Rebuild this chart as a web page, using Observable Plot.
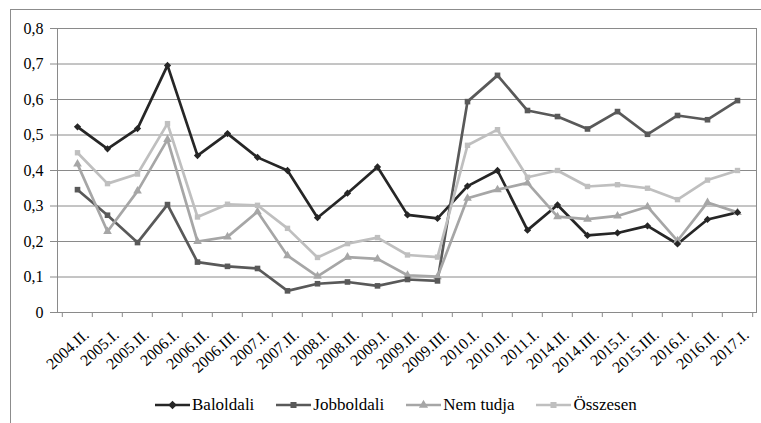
<!DOCTYPE html>
<html><head><meta charset="utf-8">
<style>
body{margin:0;width:761px;height:423px;overflow:hidden;position:relative;background:#fff;font-family:'Liberation Serif',serif;}
#box{position:absolute;left:10px;top:9px;width:800px;height:500px;border:1px solid #8c8c8c;box-sizing:border-box;}
#chart{position:absolute;left:0;top:0;}
#legend{position:absolute;left:155px;top:395px;display:flex;gap:22px;align-items:center;font-size:17px;color:#000;font-family:'Liberation Serif',serif;}
#legend .item{display:flex;align-items:center;}
#legend .item span{margin-left:2px;}
</style>
</head>
<body>
<div id="box"></div>
<div id="chart"></div>
<div id="legend"><div class="item"><svg width="35" height="12"></svg><span>Baloldali</span></div><div class="item"><svg width="35" height="12"></svg><span>Jobboldali</span></div><div class="item"><svg width="35" height="12"></svg><span>Nem tudja</span></div><div class="item"><svg width="35" height="12"></svg><span>Összesen</span></div></div>
<script src="https://cdn.jsdelivr.net/npm/d3@7"></script>
<script src="https://cdn.jsdelivr.net/npm/@observablehq/plot@0.6"></script>
<script>
const categories = ["2004.II.","2005.I.","2005.II.","2006.I.","2006.II.","2006.III.","2007.I.","2007.II.","2008.I.","2008.II.","2009.I.","2009.II.","2009.III.","2010.I.","2010.II.","2011.I.","2014.II.","2014.III.","2015.I.","2015.III.","2016.I.","2016.II.","2017.I."];
const seriesNames = ["Baloldali","Jobboldali","Nem tudja","Összesen"];
const baloldali  = [0.523,0.461,0.518,0.696,0.442,0.504,0.437,0.400,0.267,0.336,0.410,0.275,0.265,0.356,0.400,0.232,0.303,0.217,0.224,0.244,0.193,0.262,0.282];
const jobboldali = [0.346,0.274,0.197,0.304,0.142,0.130,0.124,0.061,0.081,0.086,0.075,0.093,0.089,0.594,0.668,0.569,0.552,0.517,0.566,0.502,0.555,0.543,0.597];
const nemTudja   = [0.418,0.228,0.342,0.487,0.200,0.213,0.284,0.160,0.102,0.156,0.151,0.105,0.101,0.322,0.346,0.365,0.270,0.263,0.272,0.298,0.202,0.310,0.282];
const osszesen   = [0.450,0.363,0.390,0.532,0.269,0.305,0.302,0.237,0.155,0.194,0.211,0.162,0.156,0.471,0.515,0.381,0.400,0.355,0.360,0.350,0.318,0.373,0.400];
const yTicks = [0,0.1,0.2,0.3,0.4,0.5,0.6,0.7,0.8];

const colors = ["#262626","#595959","#a6a6a6","#bfbfbf"];
const diamond = {draw(ctx, size){ const r = Math.sqrt(size/2); ctx.moveTo(0,-r); ctx.lineTo(r,0); ctx.lineTo(0,r); ctx.lineTo(-r,0); ctx.closePath(); }};
const symbols = [diamond, "square", "triangle", "square"];
const sizes = [4.2, 5.0, 5.2, 4.6];

const allValues = [baloldali, jobboldali, nemTudja, osszesen];
const rows = [];
seriesNames.forEach((s, si) => categories.forEach((c, i) => rows.push({cat: c, series: s, value: allValues[si][i], r: sizes[si]})));

const W = 761, H = 423, ML = 57, MR = 5, MT = 28, MB = 111;
const step = (W - ML - MR) / categories.length;
const fmt = d => d === 0 ? "0" : d.toFixed(1).replace(".", ",");

const chart = Plot.plot({
  width: W, height: H,
  marginLeft: ML, marginRight: MR, marginTop: MT, marginBottom: MB,
  style: {fontFamily: "Liberation Serif", background: "transparent", color: "#000"},
  x: {type: "point", domain: categories, padding: 0.5},
  y: {domain: [0, 0.8]},
  color: {domain: seriesNames, range: colors},
  symbol: {domain: seriesNames, range: symbols},
  marks: [
    Plot.gridY(yTicks, {stroke: "#8a8a8a", strokeOpacity: 1}),
    Plot.frame({stroke: "#8a8a8a"}),
    Plot.axisY(yTicks, {tickFormat: fmt, tickSize: 7, tickPadding: 7, fontSize: 16, stroke: "#8a8a8a", label: null}),
    Plot.ruleX(categories, {x: d => d, y1: 0, y2: 0, insetBottom: -5, dx: -step/2, stroke: "#8a8a8a"}),
    Plot.ruleX(categories.slice(-1), {x: d => d, y1: 0, y2: 0, insetBottom: -5, dx: step/2, stroke: "#8a8a8a"}),
    Plot.axisX({tickSize: 0, tickRotate: -42, tickPadding: 20, dx: 9, fontSize: 16, label: null}),
    Plot.line(rows, {x: "cat", y: "value", z: "series", stroke: "series", strokeWidth: 2.7}),
    Plot.dot(rows, {x: "cat", y: "value", symbol: "series", fill: "series", r: "r", stroke: "none"})
  ]
});
chart.querySelectorAll("text").forEach(t => { t.setAttribute("fill", "#000"); t.style.fontFamily = "'Liberation Serif', serif"; });
document.getElementById("chart").appendChild(chart);

// legend swatches
document.querySelectorAll("#legend .item svg").forEach((node, i) => {
  const svg = d3.select(node);
  svg.append("line").attr("x1", 0).attr("x2", 35).attr("y1", 6).attr("y2", 6).attr("stroke", colors[i]).attr("stroke-width", 2.5);
  const sym = typeof symbols[i] === "string" ? (symbols[i] === "square" ? d3.symbolSquare : d3.symbolTriangle) : symbols[i];
  svg.append("path").attr("transform", "translate(17.5,6)").attr("d", d3.symbol(sym, Math.PI * 3.4 * 3.4)()).attr("fill", colors[i]);
});
document.querySelectorAll("#legend .item span").forEach((sp, i) => { sp.textContent = seriesNames[i]; });
</script>
</body></html>
